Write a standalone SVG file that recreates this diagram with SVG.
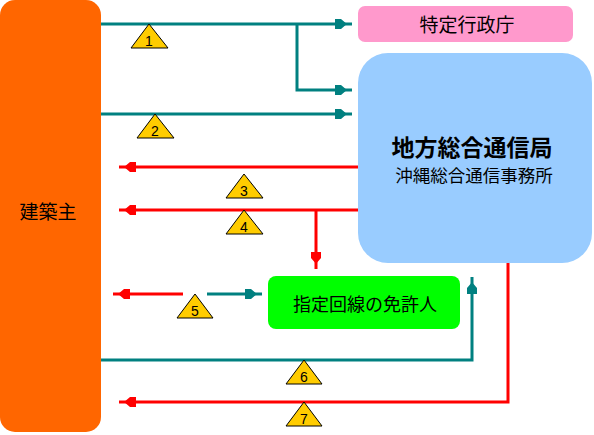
<svg xmlns="http://www.w3.org/2000/svg" width="594" height="435" viewBox="0 0 594 435">
<style>
.t{font-family:"Noto Sans CJK JP","Noto Sans CJK SC",sans-serif;fill:#000;text-anchor:middle}
.n{font-family:"Liberation Sans",Arial,sans-serif;font-size:14px;fill:#000;text-anchor:middle}
.teal{stroke:#008080;stroke-width:3;fill:none}
.red{stroke:#FF0000;stroke-width:3;fill:none}
.tri{fill:#FFCC00;stroke:#000;stroke-width:1}
</style>
<defs>
<marker id="at" markerUnits="userSpaceOnUse" markerWidth="20" markerHeight="12" refX="0" refY="0" orient="auto" overflow="visible">
<path d="M0,-0.7 L-6,-0.7 L-11,-5 L-17,-5 L-17,5 L-11,5 L-6,0.7 L0,0.7 Z" fill="#008080"/>
</marker>
<marker id="ar" markerUnits="userSpaceOnUse" markerWidth="20" markerHeight="12" refX="0" refY="0" orient="auto" overflow="visible">
<path d="M0,-0.7 L-6,-0.7 L-11,-5 L-17,-5 L-17,5 L-11,5 L-6,0.7 L0,0.7 Z" fill="#FF0000"/>
</marker>
</defs>
<g id="connectors">
<path class="teal" d="M101,24 H352" marker-end="url(#at)"/>
<path class="teal" d="M297,24 V90 H352" marker-end="url(#at)"/>
<path class="teal" d="M101,114 H352" marker-end="url(#at)"/>
<path class="red" d="M358,167 H119" marker-end="url(#ar)"/>
<path class="red" d="M358,210 H119" marker-end="url(#ar)"/>
<path class="red" d="M316,210 V269" marker-end="url(#ar)"/>
<path class="red" d="M183,294 H113" marker-end="url(#ar)"/>
<path class="teal" d="M207,294 H262" marker-end="url(#at)"/>
<path class="teal" d="M101,360 H472 V277" marker-end="url(#at)"/>
<path class="red" d="M508,263 V402 H119" marker-end="url(#ar)"/>
</g>
<g id="kenchikunushi">
<rect x="0" y="0" width="101" height="432" rx="15" fill="#FF6600"/>
<text class="t" x="48" y="219" font-size="19">建築主</text>
</g>
<g id="tokutei">
<rect x="358" y="6" width="215" height="36" rx="7" fill="#FF99CC"/>
<text class="t" x="467" y="32" font-size="19">特定行政庁</text>
</g>
<g id="chiho">
<rect x="358" y="53" width="234" height="210" rx="30" fill="#99CCFF"/>
<text class="t" x="472" y="156" font-size="23" font-weight="bold">地方総合通信局</text>
<text class="t" x="474" y="182" font-size="17.5">沖縄総合通信事務所</text>
</g>
<g id="menkyonin">
<rect x="268" y="276" width="192" height="53" rx="8" fill="#00FF00"/>
<text class="t" x="365" y="311" font-size="18">指定回線の免許人</text>
</g>
<g id="badges">
<polygon class="tri" points="149,24 131,48 168,48"/><text class="n" x="149" y="46">1</text>
<polygon class="tri" points="155,114 137,138 174,138"/><text class="n" x="155" y="136">2</text>
<polygon class="tri" points="244,174 226,198 263,198"/><text class="n" x="244" y="196">3</text>
<polygon class="tri" points="244,210 226,234 263,234"/><text class="n" x="244" y="232">4</text>
<polygon class="tri" points="195,294 177,318 213,318"/><text class="n" x="195" y="316">5</text>
<polygon class="tri" points="304,360 286,384 322,384"/><text class="n" x="304" y="382">6</text>
<polygon class="tri" points="304,402 286,426 322,426"/><text class="n" x="304" y="424">7</text>
</g>
</svg>
